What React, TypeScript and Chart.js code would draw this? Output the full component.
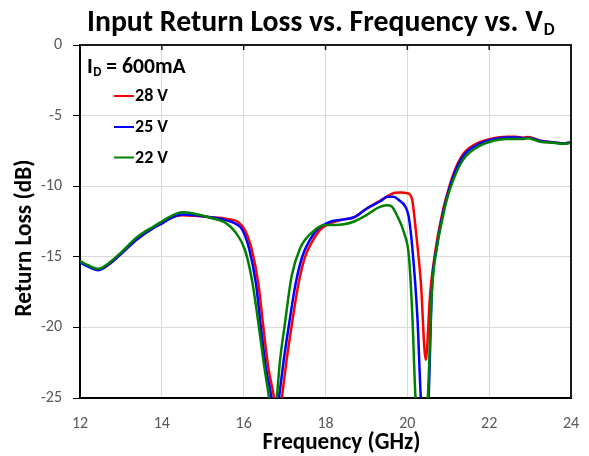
import React, { useEffect, useRef } from "react";
import { Chart, registerables } from "chart.js";

Chart.register(...registerables);

const FONT = "Carlito, Lato, 'Open Sans', sans-serif";

const xTicks = [12, 14, 16, 18, 20, 22, 24];
const yTicks = [0, -5, -10, -15, -20, -25];

const seriesLabels = ["28 V", "25 V", "22 V"];
const seriesColors = ["#ff0000", "#0000ff", "#008000"];

const freq28 = [12.0, 12.2, 12.45, 12.7, 13.0, 13.4, 13.8, 14.0, 14.2, 14.5, 14.8, 15.2, 15.56, 15.87, 16.03, 16.2, 16.36, 16.48, 16.6, 16.7, 16.86, 16.95, 17.05, 17.17, 17.34, 17.5, 17.7, 17.9, 18.14, 18.45, 18.7, 19.0, 19.35, 19.55, 19.7, 19.85, 20.0, 20.11, 20.21, 20.33, 20.45, 20.56, 20.7, 20.88, 20.96, 21.13, 21.37, 21.7, 22.02, 22.43, 22.65, 22.84, 22.95, 23.25, 23.57, 23.82, 24.0];
const rl28 = [-15.35, -15.65, -15.9, -15.55, -14.8, -13.7, -12.9, -12.6, -12.25, -12.05, -12.1, -12.2, -12.3, -12.55, -13.1, -14.5, -16.9, -19.95, -22.8, -24.3, -26.5, -24.6, -22.3, -19.95, -16.9, -15.0, -13.8, -13.0, -12.6, -12.35, -12.2, -11.6, -11.0, -10.65, -10.46, -10.45, -10.5, -10.86, -13.2, -16.8, -22.3, -17.5, -14.3, -11.6, -10.7, -9.09, -7.7, -6.96, -6.66, -6.49, -6.5, -6.56, -6.52, -6.78, -6.89, -6.96, -6.89];

const freq25 = [12.0, 12.2, 12.45, 12.7, 13.0, 13.4, 13.8, 14.0, 14.2, 14.5, 14.8, 15.2, 15.56, 15.8, 15.97, 16.14, 16.3, 16.42, 16.54, 16.64, 16.79, 16.88, 16.98, 17.1, 17.27, 17.43, 17.62, 17.82, 18.05, 18.2, 18.45, 18.7, 19.0, 19.35, 19.51, 19.66, 19.8, 19.94, 20.03, 20.12, 20.25, 20.33, 20.43, 20.52, 20.6, 20.72, 20.88, 20.96, 21.13, 21.37, 21.7, 22.02, 22.43, 22.65, 22.84, 22.95, 23.25, 23.57, 23.82, 24.0];
const rl25 = [-15.4, -15.7, -15.95, -15.55, -14.8, -13.75, -12.95, -12.65, -12.3, -12.0, -12.05, -12.2, -12.4, -12.65, -13.1, -14.5, -16.9, -19.95, -22.8, -24.3, -26.5, -24.6, -22.3, -19.95, -16.9, -15.0, -13.8, -13.0, -12.6, -12.45, -12.35, -12.2, -11.6, -11.05, -10.75, -10.74, -11.0, -11.4, -12.1, -14.3, -19.5, -25.0, -28.0, -25.0, -17.4, -14.3, -11.8, -10.85, -9.25, -7.85, -7.08, -6.73, -6.55, -6.55, -6.6, -6.56, -6.8, -6.9, -6.97, -6.9];

const freq22 = [12.0, 12.2, 12.45, 12.7, 13.0, 13.4, 13.8, 14.0, 14.2, 14.5, 14.8, 15.2, 15.56, 15.81, 16.03, 16.2, 16.36, 16.48, 16.58, 16.72, 16.8, 16.89, 17.01, 17.17, 17.38, 17.66, 17.99, 18.23, 18.45, 18.7, 19.0, 19.3, 19.5, 19.6, 19.76, 19.92, 20.04, 20.12, 20.2, 20.35, 20.5, 20.6, 20.72, 20.88, 20.96, 21.13, 21.37, 21.7, 22.02, 22.43, 22.65, 22.84, 22.95, 23.25, 23.57, 23.82, 24.0];
const rl22 = [-15.3, -15.6, -15.85, -15.45, -14.7, -13.6, -12.85, -12.5, -12.15, -11.85, -11.95, -12.25, -12.6, -13.3, -14.5, -16.6, -19.7, -22.3, -24.2, -26.5, -25.2, -22.3, -19.7, -16.4, -14.4, -13.3, -12.75, -12.75, -12.7, -12.5, -12.05, -11.5, -11.35, -11.4, -12.15, -13.3, -15.0, -19.0, -25.0, -29.0, -25.0, -17.4, -14.4, -12.0, -11.0, -9.5, -8.1, -7.25, -6.85, -6.65, -6.65, -6.65, -6.6, -6.85, -6.93, -7.0, -6.92];

const chartTitle = "Input Return Loss vs. Frequency vs. V";
const chartTitleSub = "D";
const legendHeader = "I";
const legendHeaderSub = "D";
const legendHeaderRest = " = 600mA";
const xTitle = "Frequency (GHz)";
const yTitle = "Return Loss (dB)";

function fitSize(ctx: CanvasRenderingContext2D, text: string, weight: string, target: number) {
  ctx.font = `${weight} 100px ${FONT}`;
  const w = ctx.measureText(text).width;
  return (100 * target) / w;
}

const decorPlugin = {
  id: "decor",
  afterDraw(chart: any) {
    const ctx: CanvasRenderingContext2D = chart.ctx;
    const a = chart.chartArea;
    const xs = chart.scales.x;
    ctx.save();

    // top and right border
    ctx.strokeStyle = "#1a1a1a";
    ctx.lineWidth = 2;
    ctx.beginPath();
    ctx.moveTo(a.left, a.top);
    ctx.lineTo(a.right, a.top);
    ctx.lineTo(a.right, a.bottom);
    ctx.stroke();

    // inner ticks on top border
    ctx.lineWidth = 1.5;
    for (const v of xTicks) {
      const px = xs.getPixelForValue(v);
      ctx.beginPath();
      ctx.moveTo(px, a.top);
      ctx.lineTo(px, a.top + 5);
      ctx.stroke();
    }

    ctx.fillStyle = "#000";
    ctx.textBaseline = "alphabetic";
    ctx.textAlign = "left";

    // title
    const ts = fitSize(ctx, chartTitle, "bold", 456);
    ctx.font = `bold ${ts}px ${FONT}`;
    const tw = ctx.measureText(chartTitle).width;
    ctx.fillText(chartTitle, 87, 31);
    ctx.font = `bold ${ts * 0.58}px ${FONT}`;
    ctx.fillText(chartTitleSub, 87 + tw + 1, 35);

    // legend header
    const hs = fitSize(ctx, legendHeader + legendHeaderRest, "bold", 90);
    ctx.font = `bold ${hs}px ${FONT}`;
    ctx.fillText(legendHeader, 87, 72.5);
    let hx = 87 + ctx.measureText(legendHeader).width + 0.5;
    ctx.font = `bold ${hs * 0.6}px ${FONT}`;
    ctx.fillText(legendHeaderSub, hx, 76);
    hx += ctx.measureText(legendHeaderSub).width;
    ctx.font = `bold ${hs}px ${FONT}`;
    ctx.fillText(legendHeaderRest, hx, 72.5);

    // legend items
    const ls = fitSize(ctx, "28 V", "bold", 33);
    const rows = [96, 127, 157.5];
    seriesLabels.forEach((lab, i) => {
      const y = rows[i];
      ctx.strokeStyle = seriesColors[i];
      ctx.lineWidth = 2;
      ctx.beginPath();
      ctx.moveTo(114, y);
      ctx.lineTo(134, y);
      ctx.stroke();
      ctx.fillStyle = "#000";
      ctx.font = `bold ${ls}px ${FONT}`;
      ctx.fillText(lab, 135, y + 5);
    });

    // x title
    const xsz = fitSize(ctx, xTitle, "bold", 158);
    ctx.font = `bold ${xsz}px ${FONT}`;
    ctx.textAlign = "center";
    ctx.fillText(xTitle, 341.5, 448.5);

    // y title
    const ysz = fitSize(ctx, yTitle, "bold", 157);
    ctx.save();
    ctx.translate(31, 238);
    ctx.rotate(-Math.PI / 2);
    ctx.font = `bold ${ysz}px ${FONT}`;
    ctx.textAlign = "center";
    ctx.fillText(yTitle, 0, 0);
    ctx.restore();

    ctx.restore();
  },
};

function makePoints(fs: number[], vs: number[]) {
  return fs.map((f, i) => ({ x: f, y: vs[i] }));
}

export default function App() {
  const ref = useRef<HTMLCanvasElement | null>(null);

  useEffect(() => {
    if (!ref.current) return;
    const data = [makePoints(freq28, rl28), makePoints(freq25, rl25), makePoints(freq22, rl22)];
    const chart = new Chart(ref.current, {
      type: "line",
      data: {
        datasets: data.map((d, i) => ({
          label: seriesLabels[i],
          data: d,
          borderColor: seriesColors[i],
          backgroundColor: seriesColors[i],
          borderWidth: 2.5,
          pointRadius: 0,
          fill: false,
          cubicInterpolationMode: "monotone" as const,
          clip: 0,
          order: 2 - i,
        })),
      },
      options: {
        animation: false,
        responsive: false,
        devicePixelRatio: 1,
        events: [],
        layout: { padding: { top: 45, right: 18, left: 0, bottom: 0 } },
        plugins: {
          legend: { display: false },
          title: { display: false },
          tooltip: { enabled: false },
        },
        scales: {
          x: {
            type: "linear",
            min: 12,
            max: 24,
            afterBuildTicks: (s: any) => {
              s.ticks = xTicks.map((v) => ({ value: v }));
            },
            afterFit: (s: any) => {
              s.height = 58;
              s.paddingLeft = 0;
              s.paddingRight = 0;
            },
            ticks: {
              color: "#595959",
              font: { family: FONT, size: 16 },
              padding: 16,
              maxRotation: 0,
            },
            grid: { color: "#d9d9d9", lineWidth: 1, drawTicks: false },
            border: { color: "#000", width: 2 },
          },
          y: {
            type: "linear",
            min: -25,
            max: 0,
            afterBuildTicks: (s: any) => {
              s.ticks = yTicks.map((v) => ({ value: v }));
            },
            afterFit: (s: any) => {
              s.width = 80;
              s.paddingTop = 0;
              s.paddingBottom = 0;
            },
            ticks: {
              color: "#595959",
              font: { family: FONT, size: 16 },
              padding: 11,
            },
            grid: { color: "#d9d9d9", lineWidth: 1, drawTicks: true, tickLength: 7, tickColor: "#000" },
            border: { color: "#000", width: 2 },
          },
        },
      },
      plugins: [decorPlugin],
    });
    return () => chart.destroy();
  }, []);

  return (
    <div style={{ position: "fixed", left: 0, top: 0, width: 589, height: 456, background: "#fff" }}>
      <canvas ref={ref} width={589} height={456} style={{ display: "block", width: 589, height: 456 }} />
    </div>
  );
}
